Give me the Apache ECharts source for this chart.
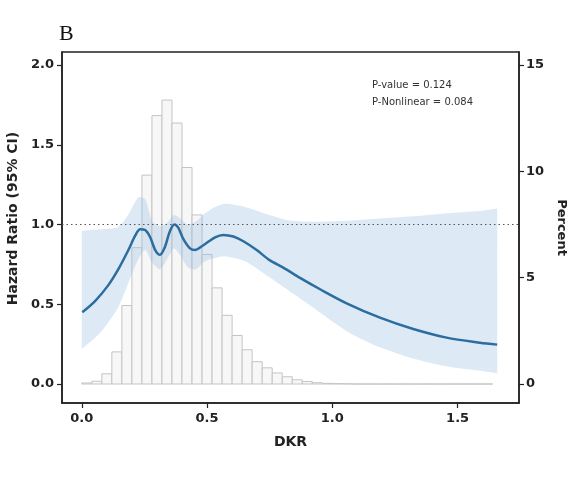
<!DOCTYPE html>
<html>
<head>
<meta charset="utf-8">
<script src="https://cdn.jsdelivr.net/npm/echarts@6.0.0/dist/echarts.min.js"></script>
<style>
  html, body { margin: 0; padding: 0; background: #fff; }
  #chart { width: 570px; height: 480px; }
</style>
</head>
<body>
<div id="chart"></div>
<script>
// restricted cubic spline: hazard ratio vs DKR
var curveX = [0.002, 0.053, 0.106, 0.146, 0.186, 0.213, 0.233, 0.253, 0.273, 0.293, 0.312, 0.332, 0.352, 0.370, 0.385, 0.405, 0.432, 0.452, 0.485, 0.532, 0.565, 0.605, 0.645, 0.698, 0.751, 0.804, 0.871, 0.951, 1.057, 1.190, 1.323, 1.456, 1.589, 1.658];
var curveHR = [0.45, 0.52, 0.62, 0.72, 0.84, 0.93, 0.97, 0.965, 0.92, 0.84, 0.81, 0.86, 0.96, 1.00, 0.98, 0.91, 0.85, 0.84, 0.87, 0.92, 0.935, 0.925, 0.895, 0.84, 0.775, 0.73, 0.665, 0.594, 0.506, 0.416, 0.345, 0.291, 0.259, 0.247];

// 95% CI
var bandX = [0.0, 0.073, 0.145, 0.185, 0.225, 0.253, 0.281, 0.312, 0.340, 0.368, 0.392, 0.424, 0.456, 0.492, 0.532, 0.576, 0.652, 0.739, 0.831, 0.923, 1.059, 1.190, 1.322, 1.458, 1.589, 1.658];
var bandUpper = [0.96, 0.97, 0.985, 1.06, 1.17, 1.16, 1.02, 0.99, 1.01, 1.06, 1.04, 1.00, 1.02, 1.07, 1.11, 1.13, 1.11, 1.065, 1.025, 1.017, 1.024, 1.037, 1.051, 1.071, 1.085, 1.10];
var bandLower = [0.22, 0.32, 0.48, 0.63, 0.78, 0.84, 0.76, 0.72, 0.78, 0.85, 0.81, 0.73, 0.72, 0.77, 0.79, 0.80, 0.77, 0.68, 0.58, 0.48, 0.33, 0.23, 0.16, 0.11, 0.083, 0.067];

// histogram of DKR (percent), bin width 0.04
var binWidth = 0.04;
var binLeft = [0.00, 0.04, 0.08, 0.12, 0.16, 0.20, 0.24, 0.28, 0.32, 0.36, 0.40, 0.44, 0.48, 0.52, 0.56, 0.60, 0.64, 0.68, 0.72, 0.76, 0.80, 0.84, 0.88, 0.92, 0.96, 1.00, 1.04, 1.08, 1.12, 1.16, 1.20, 1.24, 1.28, 1.32, 1.36, 1.40, 1.44, 1.48, 1.52, 1.56, 1.60];
var histPct = [0.05, 0.13, 0.48, 1.51, 3.69, 6.41, 9.82, 12.62, 13.35, 12.27, 10.18, 7.95, 6.09, 4.52, 3.23, 2.28, 1.61, 1.05, 0.76, 0.52, 0.34, 0.20, 0.12, 0.06, 0.03, 0.02, 0.01, 0, 0, 0, 0, 0, 0, 0, 0, 0, 0, 0, 0, 0, 0];

var xTicks = [0, 0.5, 1.0, 1.5];
var hrTicks = [0, 0.5, 1.0, 1.5, 2.0];
var pctTicks = [0, 5, 10, 15];

var chart = echarts.init(document.getElementById('chart'));

var curveData = curveX.map(function (x, i) { return [x, curveHR[i]]; });
var histData = binLeft.map(function (x, i) { return [x, histPct[i]]; });

function renderBar(params, api) {
    var x0 = api.value(0);
    var p0 = api.coord([x0, 0]);
    var p1 = api.coord([x0 + binWidth, api.value(1)]);
    return {
        type: 'rect',
        shape: { x: p0[0], y: p1[1], width: p1[0] - p0[0], height: p0[1] - p1[1] },
        style: { fill: '#f7f7f7', stroke: '#c4c4c4', lineWidth: 1 }
    };
}

// CI band: upper edge left->right, lower edge back
// end points are doubled so the smoothing keeps square ends
function renderBand(params, api) {
    var n = bandX.length;
    var pts = [api.coord([bandX[0], bandUpper[0]])];
    for (var i = 0; i < n; i++) {
        pts.push(api.coord([bandX[i], bandUpper[i]]));
    }
    pts.push(api.coord([bandX[n - 1], bandUpper[n - 1]]));
    pts.push(api.coord([bandX[n - 1], bandLower[n - 1]]));
    for (var j = n - 1; j >= 0; j--) {
        pts.push(api.coord([bandX[j], bandLower[j]]));
    }
    pts.push(api.coord([bandX[0], bandLower[0]]));
    return {
        type: 'polygon',
        shape: { points: pts, smooth: 0.25 },
        style: { fill: 'rgba(150,190,228,0.32)' }
    };
}

var tickFont = { fontFamily: 'DejaVu Sans', fontWeight: 'bold', fontSize: 13, color: '#222' };
var nameFont = { fontFamily: 'DejaVu Sans', fontWeight: 'bold', fontSize: 13, color: '#222' };
var axisLine = { show: true, onZero: false, lineStyle: { color: '#222', width: 1.5 } };
var tickStyle = { color: '#222', width: 1.2 };

var option = {
    animation: false,
    grid: {
        left: 62, right: 51, top: 52, bottom: 77,
        outerBoundsMode: 'none',
        containLabel: false,
        show: true, borderColor: '#222', borderWidth: 1.5, backgroundColor: '#fff'
    },
    xAxis: {
        type: 'value',
        min: -0.079, max: 1.745,
        name: 'DKR', nameLocation: 'middle', nameGap: 32,
        nameTextStyle: Object.assign({}, nameFont, { fontSize: 14 }),
        axisLine: axisLine,
        axisTick: { show: true, length: 5, lineStyle: tickStyle, customValues: xTicks },
        axisLabel: Object.assign({ margin: 9, customValues: xTicks, formatter: function (v) { return v.toFixed(1); } }, tickFont),
        splitLine: { show: false }
    },
    yAxis: [{
        type: 'value',
        min: -0.119, max: 2.0815,
        name: 'Hazard Ratio (95% CI)', nameLocation: 'middle', nameGap: 40,
        nameTextStyle: Object.assign({}, nameFont, { fontSize: 14, padding: [0, 0, 0, 18] }),
        axisLine: axisLine,
        axisTick: { show: true, length: 5, lineStyle: tickStyle, customValues: hrTicks },
        axisLabel: Object.assign({ margin: 8, customValues: hrTicks, formatter: function (v) { return v.toFixed(1); } }, tickFont),
        splitLine: { show: false }
    }, {
        type: 'value',
        position: 'right',
        min: -0.893, max: 15.61,
        name: 'Percent', nameLocation: 'middle', nameGap: 33, nameRotate: -90,
        nameTextStyle: nameFont,
        axisLine: axisLine,
        axisTick: { show: true, length: 5, lineStyle: tickStyle, customValues: pctTicks },
        axisLabel: Object.assign({ margin: 7, customValues: pctTicks }, tickFont),
        splitLine: { show: false }
    }],
    graphic: [{
        type: 'text', left: 59, top: 23,
        style: { text: 'B', fontFamily: 'Liberation Serif', fontSize: 22, fill: '#111' }
    }, {
        type: 'text', left: 372, top: 80,
        style: { text: 'P-value = 0.124', fontFamily: 'DejaVu Sans', fontSize: 10, fill: '#333' }
    }, {
        type: 'text', left: 372, top: 97,
        style: { text: 'P-Nonlinear = 0.084', fontFamily: 'DejaVu Sans', fontSize: 10, fill: '#333' }
    }],
    series: [{
        name: 'Percent',
        type: 'custom',
        yAxisIndex: 1,
        z: 1,
        renderItem: renderBar,
        encode: { x: 0, y: 1 },
        data: histData
    }, {
        name: '95% CI',
        type: 'custom',
        yAxisIndex: 0,
        z: 2,
        renderItem: renderBand,
        encode: { x: 0, y: 1 },
        data: [[bandX[0], bandLower[0]]]
    }, {
        name: 'HR',
        type: 'line',
        yAxisIndex: 0,
        z: 3,
        smooth: 0.3,
        showSymbol: false,
        lineStyle: { color: '#2c6d9f', width: 2.5 },
        data: curveData,
        markLine: {
            silent: true,
            symbol: 'none',
            label: { show: false },
            lineStyle: { color: '#555', type: [1.5, 3], width: 1 },
            data: [{ yAxis: 1 }]
        }
    }]
};

chart.setOption(option);
</script>
</body>
</html>
